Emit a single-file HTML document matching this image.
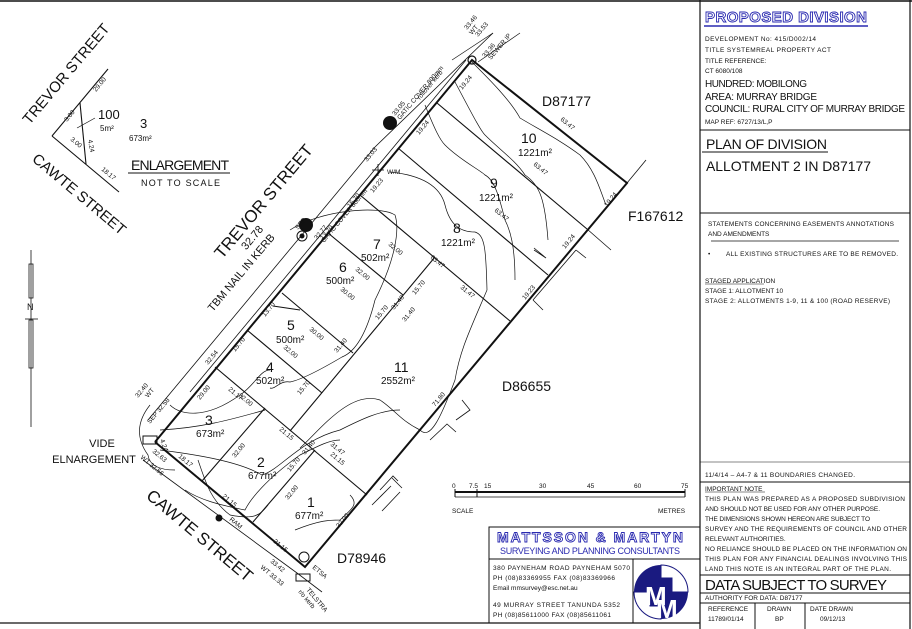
<!DOCTYPE html>
<html><head><meta charset="utf-8"><style>
html,body{margin:0;padding:0;background:#fff}
svg{display:block}
text{font-family:"Liberation Sans",sans-serif;fill:#111}
.s{font-size:6.5px}
.m{font-size:7px}
.l{font-family:"Liberation Sans Narrow","Liberation Sans",sans-serif}
</style></head><body>
<svg width="912" height="629" viewBox="0 0 912 629" xmlns="http://www.w3.org/2000/svg">
<rect width="912" height="629" fill="#fff"/>
<g stroke="#111" fill="none">
<line x1="0" y1="1" x2="912" y2="1" stroke-width="1.5"/>
<line x1="910" y1="0" x2="910" y2="629" stroke-width="1.2"/>
<line x1="700" y1="0" x2="700" y2="629" stroke-width="1.2"/>
<line x1="0" y1="623" x2="700" y2="623" stroke-width="1.2"/>
<line x1="700" y1="130" x2="910" y2="130"/>
<line x1="700" y1="213" x2="910" y2="213"/>
<line x1="700" y1="462" x2="910" y2="462" stroke-width="0.6"/>
<line x1="700" y1="482" x2="910" y2="482"/>
<line x1="700" y1="575" x2="910" y2="575"/>
<line x1="700" y1="593" x2="910" y2="593"/>
<line x1="700" y1="603" x2="910" y2="603"/>
<line x1="755" y1="603" x2="755" y2="629"/>
<line x1="805" y1="603" x2="805" y2="629"/>
<line x1="711" y1="241" x2="899" y2="241" stroke-width="0.8"/>
<!-- company box -->
<rect x="489" y="527" width="211" height="96"/>
<line x1="489" y1="559" x2="700" y2="559"/>
<line x1="633" y1="559" x2="633" y2="623"/>
<!-- plan boundary -->
<polyline points="155,442 472,60 627,183 305,567 155,442" stroke-width="2"/>
<g stroke-width="1.1">
<line x1="437" y1="103" x2="587" y2="229"/>
<line x1="398" y1="148" x2="548" y2="275"/>
<line x1="360" y1="195" x2="510" y2="321"/>
<line x1="328" y1="233" x2="403" y2="295"/>
<line x1="282" y1="293" x2="353" y2="353"/>
<line x1="247" y1="330" x2="322" y2="393"/>
<line x1="215" y1="367" x2="367" y2="495"/>
<line x1="435" y1="257" x2="290" y2="431"/>
<line x1="202" y1="481" x2="265" y2="408"/>
<line x1="253" y1="522" x2="315" y2="450"/>
<line x1="273" y1="306" x2="300" y2="310"/>
</g>
<!-- extensions -->
<line x1="627" y1="183" x2="646" y2="160" stroke-width="0.8"/>
<line x1="587" y1="229" x2="611" y2="250" stroke-width="0.8"/>
<line x1="533" y1="250" x2="585" y2="250" stroke-width="0" />
<!-- street lines -->
<polyline points="148,420 375,147 493,33" stroke-width="0.8"/>
<line x1="190" y1="392" x2="466" y2="60" stroke-width="0.8"/>
<line x1="452" y1="60" x2="493" y2="33" stroke-width="0.7"/>
<line x1="520" y1="33" x2="478" y2="62" stroke-width="0.7"/>
<polyline points="143,460 297,573 322,592" stroke-width="0.8"/>
<path d="M150,405 Q130,430 148,455 Q150,470 175,470" stroke-width="0.7"/>
<!-- adjoining ticks -->
<g stroke-width="0.8">
<polyline points="534,248 546,258 534,250"/>
<line x1="576" y1="250" x2="533" y2="300"/>
<polyline points="533,300 543,310"/><polyline points="576,250 586,258"/>
<polyline points="456,420 470,410 462,400"/>
<polyline points="430,440 447,424 456,432"/>
<polyline points="380,490 393,476 398,481"/>
<polyline points="372,505 391,486"/>
<polyline points="382,511 400,492"/>
<line x1="392" y1="478" x2="402" y2="488"/>
</g>
<!-- contours -->
<g stroke-width="0.7">
<path d="M472,62 C490,80 510,100 520,118 C540,130 560,140 580,155 C595,170 600,190 606,205"/>
<path d="M455,82 C470,110 480,130 485,135 C500,150 515,160 525,175 C540,185 545,200 548,240"/>
<path d="M425,105 C435,130 440,140 445,145 C460,160 480,170 485,175 C495,180 500,200 505,220 C510,230 515,245 515,280"/>
<path d="M390,172 C420,175 440,185 445,205 C450,225 460,232 475,232 C485,235 486,250 487,290 C470,330 460,350 455,380 C440,420 430,440 420,430 C400,420 395,410 380,400 C350,390 320,430 300,448"/>
<path d="M290,230 C320,210 380,205 395,215 C400,230 395,260 375,300 C370,320 360,350 342,357 C320,370 300,380 290,382 C280,380 275,390 270,388"/>
<path d="M170,405 C180,415 205,420 240,395 C255,385 260,370 270,370"/>
<path d="M160,430 C200,428 230,420 265,410"/>
<path d="M160,450 C200,455 240,462 262,475 C280,470 300,440 340,430 C360,420 380,410 400,410"/>
<path d="M185,490 C200,500 220,505 245,510 C250,500 265,480 300,455 C320,445 330,440 340,440"/>
<path d="M198,460 C205,480 210,500 230,515 C255,520 260,515 268,505"/>
<path d="M295,530 C320,520 330,520 340,520 C350,510 360,505 350,495"/>
</g>
<!-- enlargement -->
<g stroke-width="1.1">
<line x1="52" y1="136" x2="108" y2="69"/>
<line x1="52" y1="136" x2="119" y2="192"/>
<line x1="80" y1="103" x2="86" y2="164"/>
<line x1="77" y1="128" x2="95" y2="118" stroke-width="0.7"/>
</g>
<line x1="128" y1="173" x2="230" y2="173"/>
<!-- north arrow -->
<line x1="31" y1="250" x2="31" y2="427" stroke-width="0.8"/>
<rect x="29" y="264" width="4" height="34" stroke-width="0.8"/>
<rect x="29" y="320" width="4" height="48" stroke-width="0.8"/>
<line x1="25" y1="319" x2="38" y2="319" stroke-width="0.8"/>
<!-- scale bar -->
<line x1="455" y1="492" x2="685" y2="492" stroke-width="2"/>
<line x1="455" y1="497" x2="685" y2="497" stroke-width="0.8"/>
<line x1="455" y1="489" x2="455" y2="497"/><line x1="685" y1="489" x2="685" y2="497"/>
<line x1="477" y1="489" x2="477" y2="497"/>
<!-- markers -->
<circle cx="472" cy="60" r="4" stroke-width="1.2"/>
<circle cx="304" cy="557" r="5" stroke-width="1"/>
<rect x="296" y="574" width="14" height="7"/>
<rect x="143" y="436" width="14" height="8"/>
<line x1="372" y1="170" x2="384" y2="170" stroke-width="0.8"/><line x1="378" y1="164" x2="378" y2="176" stroke-width="0.8"/>
<circle cx="302" cy="236" r="5" stroke-width="1"/>
</g>
<circle cx="390" cy="123" r="7" fill="#111"/>
<circle cx="306" cy="225" r="7" fill="#111"/>
<circle cx="219" cy="518" r="3.5" fill="#111"/>
<circle cx="302" cy="236" r="2.5" fill="#111"/>
<!-- logo -->
<circle cx="661" cy="592" r="27" fill="#1a1a80"/>
<path d="M661,565 A27,27 0 0 1 688,592 L672,592 L672,578 L661,578 Z" fill="#fff" stroke="#1a1a80"/>
<path d="M661,619 A27,27 0 0 1 634,592 L650,592 L650,606 L661,606 Z" fill="#fff" stroke="#1a1a80"/>
<text x="645" y="605" style="font-size:26px;fill:#fff;font-weight:bold">M</text>
<text x="656" y="618" style="font-size:26px;fill:#fff;font-weight:bold">M</text>

<!-- plan labels -->
<g style="font-size:14px">
<text x="521" y="143">10</text><text x="490" y="188">9</text><text x="453" y="233">8</text>
<text x="373" y="249">7</text><text x="339" y="272">6</text><text x="287" y="330">5</text>
<text x="266" y="372">4</text><text x="394" y="372">11</text><text x="205" y="425">3</text>
<text x="257" y="467">2</text><text x="307" y="507">1</text>
</g>
<g style="font-size:10px">
<text x="518" y="156">1221m²</text><text x="479" y="201">1221m²</text><text x="441" y="246">1221m²</text>
<text x="361" y="261">502m²</text><text x="326" y="284">500m²</text><text x="276" y="343">500m²</text>
<text x="256" y="384">502m²</text><text x="381" y="384">2552m²</text><text x="196" y="437">673m²</text>
<text x="248" y="479">677m²</text><text x="295" y="519">677m²</text>
</g>
<g style="font-size:14px">
<text x="542" y="106">D87177</text><text x="628" y="221">F167612</text>
<text x="502" y="391">D86655</text><text x="337" y="563">D78946</text>
</g>
<text x="102" y="447" text-anchor="middle" style="font-size:11px">VIDE</text>
<text x="94" y="463" text-anchor="middle" style="font-size:11px">ELNARGEMENT</text>
<text transform="translate(268,205) rotate(-50)" text-anchor="middle" style="font-size:17px">TREVOR STREET</text>
<text transform="translate(244,275) rotate(-50)" text-anchor="middle" style="font-size:11px">TBM NAIL IN KERB</text>
<text transform="translate(255,240) rotate(-50)" text-anchor="middle" style="font-size:11px">32.78</text>
<text transform="translate(196,540) rotate(40)" text-anchor="middle" style="font-size:17px">CAWTE STREET</text>
<text transform="translate(70,77) rotate(-50)" text-anchor="middle" style="font-size:15px">TREVOR STREET</text>
<text transform="translate(76,198) rotate(40)" text-anchor="middle" style="font-size:15px">CAWTE STREET</text>
<text x="98" y="119" style="font-size:13px">100</text><text x="100" y="131" style="font-size:8px">5m²</text>
<text x="140" y="128" style="font-size:13px">3</text><text x="129" y="141" style="font-size:8px">673m²</text>
<text x="131" y="170" style="font-size:14px" textLength="98">ENLARGEMENT</text>
<text x="141" y="186" style="font-size:9px" textLength="79">NOT TO SCALE</text>
<text x="27" y="310" style="font-size:9px">N</text>
<g class="s">
<text transform="translate(96,92) rotate(-50)">29.00</text>
<text transform="translate(67,122) rotate(-50)">3.00</text>
<text transform="translate(70,140) rotate(40)">3.00</text>
<text transform="translate(88,140) rotate(80)">4.24</text>
<text transform="translate(101,170) rotate(40)">18.17</text>
<text transform="translate(560,120) rotate(40)">63.47</text>
<text transform="translate(533,165) rotate(40)">63.47</text>
<text transform="translate(494,211) rotate(40)">63.47</text>
<text transform="translate(430,258) rotate(40)">63.47</text>
<text transform="translate(460,288) rotate(40)">31.47</text>
<text transform="translate(388,245) rotate(40)">32.00</text>
<text transform="translate(355,270) rotate(40)">32.00</text>
<text transform="translate(340,290) rotate(40)">30.00</text>
<text transform="translate(309,330) rotate(40)">30.00</text>
<text transform="translate(283,348) rotate(40)">32.00</text>
<text transform="translate(228,390) rotate(40)">21.17</text>
<text transform="translate(238,396) rotate(40)">32.00</text>
<text transform="translate(279,430) rotate(40)">21.15</text>
<text transform="translate(330,445) rotate(40)">31.47</text>
<text transform="translate(330,455) rotate(40)">21.15</text>
<text transform="translate(222,497) rotate(40)">21.15</text>
<text transform="translate(273,542) rotate(40)">21.15</text>
<text transform="translate(178,457) rotate(40)">18.17</text>
<text transform="translate(607,207) rotate(-50)">19.24</text>
<text transform="translate(565,249) rotate(-50)">19.24</text>
<text transform="translate(525,300) rotate(-50)">19.23</text>
<text transform="translate(435,407) rotate(-50)">71.80</text>
<text transform="translate(462,90) rotate(-50)">19.24</text>
<text transform="translate(419,135) rotate(-50)">19.24</text>
<text transform="translate(373,193) rotate(-50)">19.23</text>
<text transform="translate(350,208) rotate(-50)">15.70</text>
<text transform="translate(323,240) rotate(-50)">13.70</text>
<text transform="translate(265,317) rotate(-50)">13.70</text>
<text transform="translate(235,352) rotate(-50)">15.70</text>
<text transform="translate(200,400) rotate(-50)">29.00</text>
<text transform="translate(235,458) rotate(-50)">32.00</text>
<text transform="translate(288,500) rotate(-50)">32.00</text>
<text transform="translate(339,528) rotate(-50)">32.00</text>
<text transform="translate(300,395) rotate(-50)">15.70</text>
<text transform="translate(337,353) rotate(-50)">31.40</text>
<text transform="translate(378,320) rotate(-50)">15.70</text>
<text transform="translate(394,310) rotate(-50)">31.40</text>
<text transform="translate(415,295) rotate(-50)">15.70</text>
<text transform="translate(405,322) rotate(-50)">31.40</text>
<text transform="translate(305,455) rotate(-50)">31.40</text>
<text transform="translate(290,472) rotate(-50)">15.70</text>
<text transform="translate(208,365) rotate(-50)">32.54</text>
<text transform="translate(138,398) rotate(-50)">32.40</text>
<text transform="translate(148,398) rotate(-50)">WT</text>
<text transform="translate(150,424) rotate(-50)">SEP 32.58</text>
<text transform="translate(160,440) rotate(70)">4.24</text>
<text transform="translate(152,452) rotate(40)">32.63</text>
<text transform="translate(140,458) rotate(40)">WT 32.56</text>
<text transform="translate(229,520) rotate(40)">RAM</text>
<text transform="translate(270,562) rotate(40)">33.42</text>
<text transform="translate(260,568) rotate(40)">WT 33.33</text>
<text transform="translate(312,568) rotate(40)">ETSA</text>
<text transform="translate(306,590) rotate(50)">TELSTRA</text>
<text transform="translate(298,592) rotate(50)">r/o kerb</text>
<text transform="translate(298,230) rotate(-50)">SEP</text>
<text transform="translate(317,240) rotate(-50)">32.77</text>
<text transform="translate(324,243) rotate(-50)">GATIC COVER 800mm</text>
<text transform="translate(367,162) rotate(-50)">33.03</text>
<text transform="translate(395,116) rotate(-50)">33.05</text>
<text transform="translate(400,120) rotate(-50)">GATIC COVER 800mm</text>
<text transform="translate(420,100) rotate(-50)">rollover kerb</text>
<text transform="translate(467,30) rotate(-50)">33.46</text>
<text transform="translate(472,35) rotate(-50)">WT</text>
<text transform="translate(478,37) rotate(-50)">33.53</text>
<text transform="translate(485,58) rotate(-50)">33.36</text>
<text transform="translate(491,60) rotate(-50)">SEWER IP</text>
<text x="387" y="174">W/M</text>
</g>
<!-- scale labels -->
<g class="s">
<text x="452" y="488">0</text><text x="469" y="488">7.5</text><text x="484" y="488">15</text>
<text x="539" y="488">30</text><text x="587" y="488">45</text><text x="634" y="488">60</text><text x="681" y="488">75</text>
<text x="452" y="513">SCALE</text><text x="658" y="513">METRES</text>
</g>
<!-- company -->
<text x="497" y="542" textLength="186" style="font-size:14px;font-weight:bold;fill:#fff;stroke:#2a2ab0;stroke-width:0.9">MATTSSON &amp; MARTYN</text>
<text x="500" y="554" textLength="180" style="font-size:9px;fill:#2a2ab0">SURVEYING AND PLANNING CONSULTANTS</text>
<g class="s">
<text x="493" y="570" textLength="137">380 PAYNEHAM ROAD PAYNEHAM 5070</text>
<text x="493" y="580" textLength="122">PH (08)83369955 FAX (08)83369966</text>
<text x="493" y="590">Email mmsurvey@esc.net.au</text>
<text x="493" y="607" textLength="127">49 MURRAY  STREET TANUNDA 5352</text>
<text x="493" y="617" textLength="118">PH (08)85611000 FAX (08)85611061</text>
</g>
<!-- right panel -->
<text x="705" y="22" textLength="162" style="font-size:15px;font-weight:bold;fill:#fff;stroke:#2a2ab0;stroke-width:0.9">PROPOSED DIVISION</text>
<line x1="704" y1="26" x2="868" y2="26" stroke="#2a2ab0" stroke-width="1.5"/>
<g class="s">
<text x="705" y="41" textLength="111">DEVELOPMENT No: 415/D002/14</text>
<text x="705" y="52" textLength="126">TITLE SYSTEMREAL PROPERTY ACT</text>
<text x="705" y="63">TITLE REFERENCE:</text>
<text x="705" y="73">CT  6080/108</text>
<text x="705" y="124">MAP REF:  6727/13/L,P</text>
</g>
<text x="705" y="87" textLength="102" style="font-size:10px">HUNDRED: MOBILONG</text>
<text x="705" y="100" textLength="112" style="font-size:10px">AREA: MURRAY BRIDGE</text>
<text x="705" y="112" textLength="200" style="font-size:10px">COUNCIL: RURAL CITY OF MURRAY BRIDGE</text>
<text x="706" y="149" textLength="121" style="font-size:14px">PLAN OF DIVISION</text>
<line x1="702" y1="152" x2="828" y2="152" stroke="#111"/>
<text x="706" y="171" textLength="165" style="font-size:14px">ALLOTMENT 2 IN D87177</text>
<g class="s">
<text x="708" y="226" textLength="186">STATEMENTS CONCERNING EASEMENTS ANNOTATIONS</text>
<text x="708" y="236">AND AMENDMENTS</text>
<text x="708" y="256">•</text>
<text x="726" y="256" textLength="172">ALL EXISTING STRUCTURES ARE TO BE REMOVED.</text>
<text x="705" y="283">STAGED APPLICATION</text>
<text x="705" y="293">STAGE 1: ALLOTMENT 10</text>
<text x="705" y="303" textLength="185">STAGE 2: ALLOTMENTS 1-9, 11 &amp; 100 (ROAD RESERVE)</text>
<text x="705" y="477" textLength="150">11/4/14 – A4-7 &amp; 11 BOUNDARIES CHANGED.</text>
<text x="705" y="491">IMPORTANT NOTE</text>
<text x="705" y="501" textLength="200">THIS PLAN WAS PREPARED AS A PROPOSED SUBDIVISION</text>
<text x="705" y="511" textLength="175">AND SHOULD NOT BE USED FOR ANY OTHER PURPOSE.</text>
<text x="705" y="521" textLength="165">THE DIMENSIONS SHOWN HEREON ARE SUBJECT TO</text>
<text x="705" y="531" textLength="202">SURVEY AND THE REQUIREMENTS OF COUNCIL AND OTHER</text>
<text x="705" y="541">RELEVANT AUTHORITIES.</text>
<text x="705" y="551" textLength="202">NO RELIANCE SHOULD BE PLACED ON THE INFORMATION ON</text>
<text x="705" y="561" textLength="202">THIS PLAN FOR ANY FINANCIAL DEALINGS INVOLVING THIS</text>
<text x="705" y="571" textLength="186">LAND THIS NOTE IS AN INTEGRAL PART OF THE PLAN.</text>
<text x="705" y="600">AUTHORITY FOR DATA: D87177</text>
<text x="708" y="611">REFERENCE</text><text x="708" y="621">11789/01/14</text>
<text x="767" y="611">DRAWN</text><text x="775" y="621">BP</text>
<text x="810" y="611">DATE DRAWN</text><text x="820" y="621">09/12/13</text>
</g>
<line x1="705" y1="284" x2="764" y2="284" stroke="#111" stroke-width="0.6"/>
<line x1="705" y1="492" x2="765" y2="492" stroke="#111" stroke-width="0.6"/>
<text x="705" y="590" textLength="182" style="font-size:15px">DATA SUBJECT TO SURVEY</text>
</svg>
</body></html>
